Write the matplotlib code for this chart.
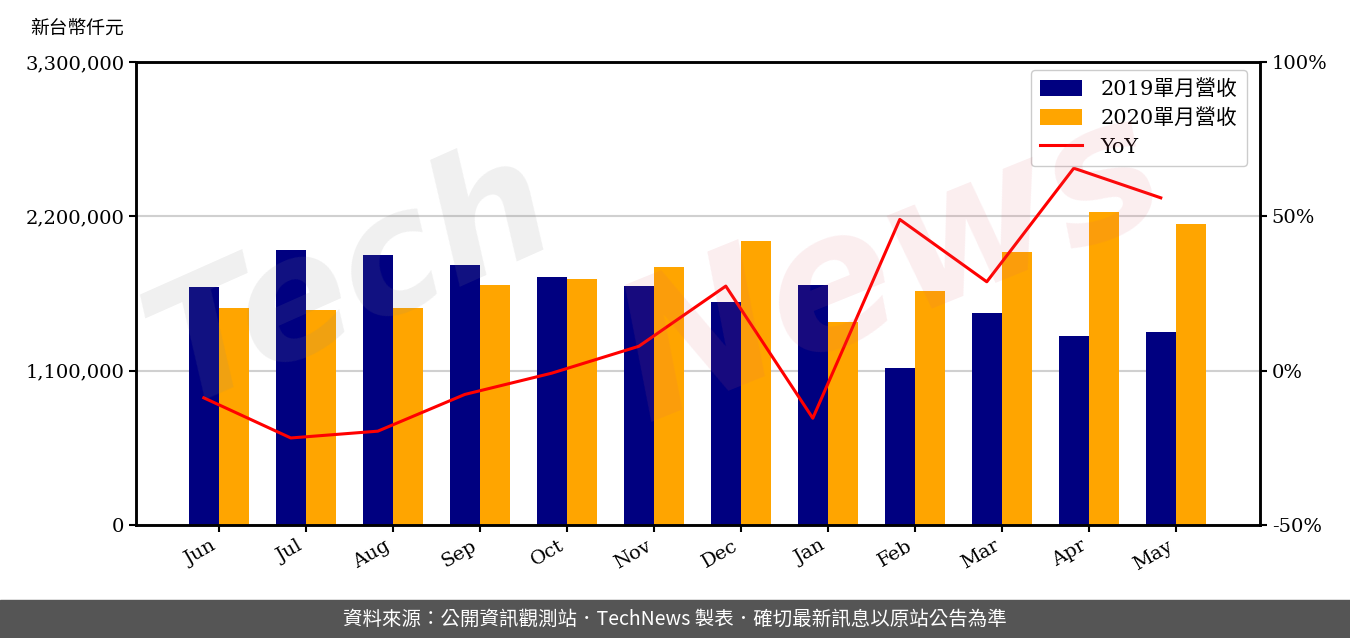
import numpy as np
import matplotlib
matplotlib.use("Agg")
import matplotlib.pyplot as plt
from matplotlib.patches import Rectangle

months = ["Jun", "Jul", "Aug", "Sep", "Oct", "Nov", "Dec", "Jan", "Feb", "Mar", "Apr", "May"]
rev_2019 = [1696000, 1960000, 1924000, 1853000, 1768000, 1703000, 1589000, 1711000, 1119000, 1511000, 1347000, 1376000]
rev_2020 = [1547000, 1532000, 1547000, 1711000, 1753000, 1839000, 2024000, 1447000, 1668000, 1946000, 2231000, 2145000]
yoy = [-8.8, -21.8, -19.6, -7.7, -0.8, 7.9, 27.4, -15.4, 49.0, 28.8, 65.6, 56.0]

left_ticks = [0, 1100000, 2200000, 3300000]
left_labels = ["0", "1,100,000", "2,200,000", "3,300,000"]
right_ticks = [-50, 0, 50, 100]
right_labels = ["-50%", "0%", "50%", "100%"]

serif = "DejaVu Serif"
cjk = ["Noto Sans CJK TC", "DejaVu Sans"]

fig = plt.figure(figsize=(13.5, 6.38), dpi=100)
ax = fig.add_axes([0.1007, 0.1771, 0.8326, 0.7257])

x = np.arange(len(months))
w = 0.35
b1 = ax.bar(x - w / 2, rev_2019, w, color="#000080", label="2019單月營收", zorder=2)
b2 = ax.bar(x + w / 2, rev_2020, w, color="#FFA500", label="2020單月營收", zorder=2)

ax.set_ylim(0, 3300000)
ax.set_xlim(-0.955, 11.965)
ax.set_yticks(left_ticks)
ax.set_yticklabels(left_labels, family=serif, fontsize=14)
ax.set_xticks(x)
ax.set_xticklabels(months, family=serif, fontsize=14, rotation=30, ha="right")
ax.grid(axis="y", color="#d0d0d0", linewidth=1.5, zorder=0)
ax.set_axisbelow(True)
ax.tick_params(length=5, width=1.5)
for s in ax.spines.values():
    s.set_linewidth(1.8)

# yoy line sits over the 2019 bars
ax2 = ax.twinx()
ln, = ax2.plot(x - w / 2, yoy, color="red", linewidth=2.2, label="YoY", zorder=3)
ax2.set_ylim(-50, 100)
ax2.set_yticks(right_ticks)
ax2.set_yticklabels(right_labels, family=serif, fontsize=14)
ax2.tick_params(length=5, width=1.5)
for s in ax2.spines.values():
    s.set_linewidth(1.8)

leg = ax2.legend([b1, b2, ln], ["2019單月營收", "2020單月營收", "YoY"],
                 loc="upper right", bbox_to_anchor=(0.9884, 0.983), borderaxespad=0,
                 prop={"family": ["DejaVu Serif", "Noto Sans CJK TC"], "size": 15},
                 handlelength=2.0, handleheight=0.8, handletextpad=0.9,
                 labelspacing=0.45, borderpad=0.45, framealpha=1,
                 edgecolor="#cccccc", fancybox=True)

fig.text(0.022, 0.955, "新台幣仟元", family=cjk, fontsize=13.5, va="center", ha="left")

# watermark
fig.text(0.26, 0.56, "Tech", fontsize=120, style="italic", weight="bold",
         color="#888888", alpha=0.13, rotation=24, ha="center", va="center",
         family="DejaVu Sans", zorder=0)
fig.text(0.66, 0.58, "News", fontsize=135, style="italic", weight="bold",
         color="#e06070", alpha=0.11, rotation=22, ha="center", va="center",
         family="DejaVu Sans", zorder=0)

# footer
fig.patches.append(Rectangle((0, 0), 1, 38 / 638, transform=fig.transFigure,
                             color="#555555", zorder=0))
fig.text(0.5, 19 / 638, "資料來源：公開資訊觀測站．TechNews 製表．確切最新訊息以原站公告為準",
         family=cjk, fontsize=14, color="white", ha="center", va="center")

fig.savefig("out.png", dpi=100)
